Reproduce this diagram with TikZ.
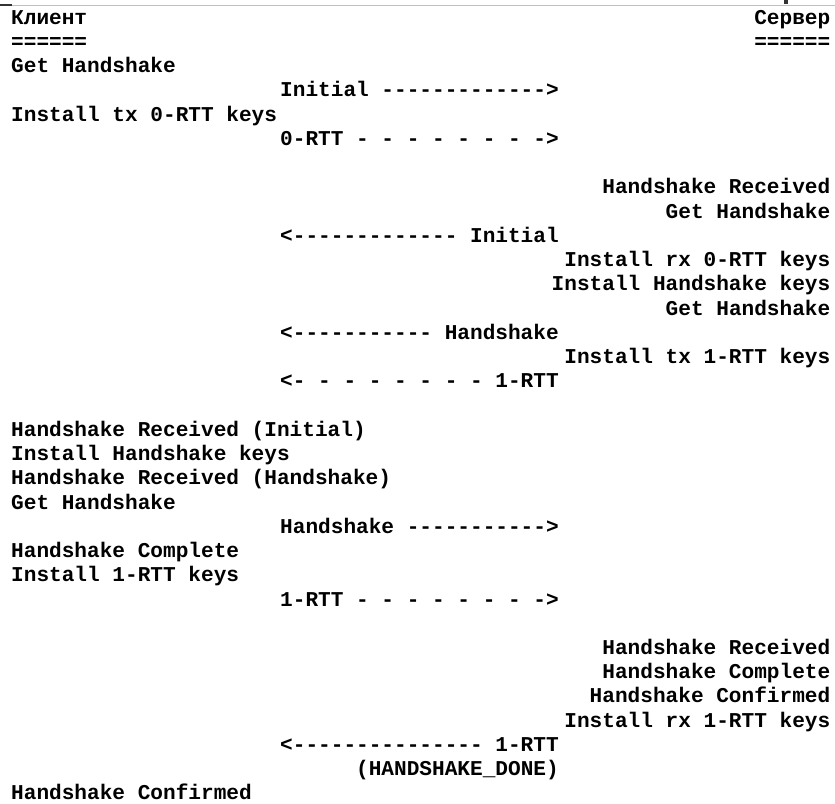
\documentclass[tikz,border=0pt]{standalone}
\usepackage{fontspec}
\setmonofont{Liberation Mono}
\begin{document}
\begin{tikzpicture}[x=1pt, y=-24.24pt,
    every node/.style = {inner sep=0pt, font=\fontsize{21.1}{24.24}\selectfont\ttfamily\bfseries},
    clientLine/.style = {anchor=base west},
    serverLine/.style = {anchor=base east},
    msgLine/.style = {anchor=base west},
    ]
    \useasboundingbox (0,0) rectangle (835,33.13);
    % edge of the screenshot
    \draw[black!25, line width=1pt] (0,0.21) -- (835,0.21);
    \draw[black!80, line width=1.5pt] (0,0.21) -- (12,0.21);
    \fill[black!80] (784,0) rectangle (788,0.16);
    % header
    \node[clientLine] (client) at (11,1) {Клиент};
    \node[serverLine] (server) at (830.5,1) {Сервер};
    \node[clientLine] (clientEq) at (11,2) {======};
    \node[serverLine] (serverEq) at (830.5,2) {======};
    % client side
    \node[clientLine] (c1) at (11,3) {Get Handshake};
    \node[clientLine] (c2) at (11,5) {Install tx 0-RTT keys};
    \node[clientLine] (c3) at (11,18) {Handshake Received (Initial)};
    \node[clientLine] (c4) at (11,19) {Install Handshake keys};
    \node[clientLine] (c5) at (11,20) {Handshake Received (Handshake)};
    \node[clientLine] (c6) at (11,21) {Get Handshake};
    \node[clientLine] (c7) at (11,23) {Handshake Complete};
    \node[clientLine] (c8) at (11,24) {Install 1-RTT keys};
    \node[clientLine] (c9) at (11,33) {Handshake Confirmed};
    % packets
    \node[msgLine] (m1) at (280,4) {Initial ------------->};
    \node[msgLine] (m2) at (280,6) {0-RTT - - - - - - - ->};
    \node[msgLine] (m3) at (280,10) {<------------- Initial};
    \node[msgLine] (m4) at (280,14) {<----------- Handshake};
    \node[msgLine] (m5) at (280,16) {<- - - - - - - - 1-RTT};
    \node[msgLine] (m6) at (280,22) {Handshake ----------->};
    \node[msgLine] (m7) at (280,25) {1-RTT - - - - - - - ->};
    \node[msgLine] (m8) at (280,31) {<--------------- 1-RTT};
    \node[anchor=base east] (done) at (m8.base east |- 0,32) {(HANDSHAKE\_DONE)};
    % server side
    \node[serverLine] (s1) at (830.5,8) {Handshake Received};
    \node[serverLine] (s2) at (830.5,9) {Get Handshake};
    \node[serverLine] (s3) at (830.5,11) {Install rx 0-RTT keys};
    \node[serverLine] (s4) at (830.5,12) {Install Handshake keys};
    \node[serverLine] (s5) at (830.5,13) {Get Handshake};
    \node[serverLine] (s6) at (830.5,15) {Install tx 1-RTT keys};
    \node[serverLine] (s7) at (830.5,27) {Handshake Received};
    \node[serverLine] (s8) at (830.5,28) {Handshake Complete};
    \node[serverLine] (s9) at (830.5,29) {Handshake Confirmed};
    \node[serverLine] (s10) at (830.5,30) {Install rx 1-RTT keys};
\end{tikzpicture}
\end{document}
